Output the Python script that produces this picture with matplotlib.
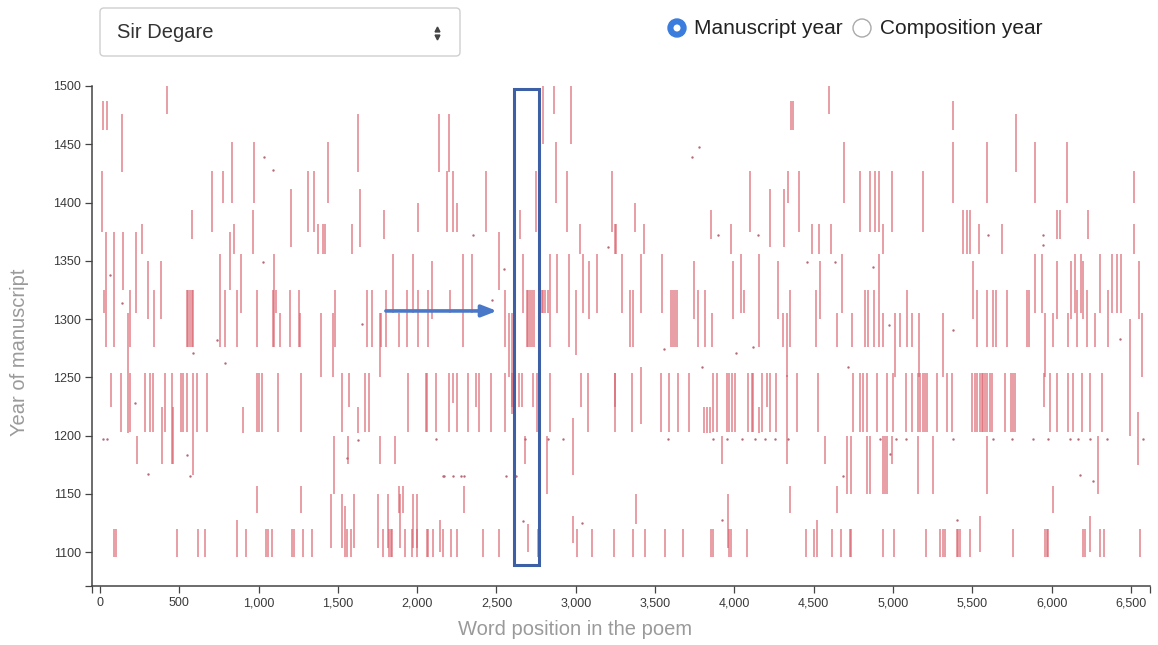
import matplotlib
matplotlib.use("Agg")
import matplotlib.pyplot as plt
from matplotlib.patches import FancyBboxPatch, Rectangle, Circle
from matplotlib.ticker import FuncFormatter

plt.rcParams["font.family"] = ["Liberation Sans", "DejaVu Sans"]

# word positions where a manuscript carries the line, grouped by the year span of that manuscript
pos_1096_1120 = [88, 100, 483, 620, 662, 920, 1044, 1061, 1086, 1212, 1222, 1282, 1334, 1555, 1582,
                 1786, 1822, 1832, 1843, 1923, 1965, 1996, 2059, 2069, 2102, 2165, 2211, 2249, 2413,
                 2518, 2760, 3010, 3100, 3241, 3363, 3436, 3562, 3678, 3852, 3862, 3966, 3976, 4077,
                 4451, 4501, 4613, 4670, 4728, 4738, 4934, 5006, 5208, 5296, 5313, 5327, 5401, 5411,
                 5422, 5486, 5759, 5958, 5968, 5979, 6200, 6210, 6305, 6333, 6557]
pos_1104_1150 = [1456, 1523, 1603, 1750, 1818, 1891, 1975, 1996, 3962]
pos_1134_1157 = [988, 1267, 1885, 1912, 2295, 4350, 4644, 6011]
pos_1150_1200 = [1477, 2816, 4711, 4732, 4838, 4855, 4939, 4950, 4964, 5159, 5250, 5591, 6295]
pos_1176_1200 = [235, 1566, 1765, 1860, 2680, 3920, 4571, 4991]
pos_1176_1225 = [389, 462]
pos_1202_1225 = [904, 1629, 3810, 3825, 3846, 4155]
pos_1225_1254 = [71, 1570, 2371, 2596, 2644, 2659, 2728, 3031, 3247, 4203, 5954]
pos_1203_1254 = [132, 189, 283, 315, 336, 410, 509, 525, 550, 610, 672, 988, 1000, 1020, 1124, 1267,
                 1523, 1671, 1696, 1940, 2055, 2062, 2116, 2203, 2249, 2323, 2392, 2463, 2554, 2611,
                 2754, 2838, 3079, 3248, 3352, 3537, 3587, 3646, 3714, 3867, 3888, 3951, 3966, 3983,
                 4004, 4084, 4109, 4116, 4172, 4224, 4260, 4396, 4529, 4745, 4791, 4812, 4838, 4897,
                 4964, 4997, 5081, 5117, 5159, 5170, 5187, 5200, 5212, 5275, 5338, 5369, 5500, 5514,
                 5528, 5549, 5560, 5570, 5580, 5591, 5612, 5622, 5706, 5744, 5755, 5769, 5990, 6032,
                 6101, 6137, 6194, 6242, 6320]
pos_1250_1305 = [1393, 1471, 1765, 2579, 4330, 5012, 5166, 5313, 5958, 6572]
pos_1276_1305 = [1135, 1261, 1775, 1885, 2291, 3861, 4309, 4644, 4739, 4934, 5044, 5117, 6011, 6106, 6274]
pos_1276_1325 = [189, 340, 546, 557, 567, 578, 588, 788, 866, 988, 1092, 1198, 1254, 1481, 1681, 1717,
                 1801, 1933, 2007, 2066, 2554, 2690, 2700, 2712, 2725, 2737, 3341, 3363, 3600, 3612,
                 3625, 3636, 3768, 3815, 4350, 4514, 4823, 4844, 4880, 5086, 5528, 5591, 5629, 5647,
                 5717, 5843, 5857, 6158, 6221, 6358]
pos_1276_1356 = [757, 1099, 2838, 2960, 4155, 4913]
pos_1276_1375 = [38, 88]
pos_1305_1325 = [25, 1113, 2207, 2785, 2796, 2807, 2827, 4063]
pos_1305_1356 = [887, 1849, 1971, 2291, 2344, 2665, 2775, 2880, 3048, 3132, 3293, 3411, 3545, 4040,
                 4676, 5895, 5937, 6148, 6186, 6305, 6379, 6410, 6438]
pos_1300_1350 = [305, 384, 2091, 3086, 3747, 3993, 4277, 4539, 5507, 6032, 6120, 6200, 6551]
pos_1325_1375 = [147, 820, 2518]
pos_1356_1382 = [267, 845, 1376, 1408, 1418, 1591, 3027, 3254, 3247, 3432, 3979, 4487, 4535, 4606,
                 4939, 5542, 5685, 6520]
pos_1369_1394 = [578, 1793, 2649, 3852, 6032, 6053, 6228]
pos_1356_1394 = [967, 5439, 5464, 5486]
pos_1362_1412 = [1204, 1639, 4224, 4315]
pos_1375_1400 = [2003, 2249, 3373]
pos_1375_1427 = [10, 704, 1309, 1351, 2186, 2228, 2434, 2749, 2943, 3227, 4098, 4409, 4791, 4854,
                 4886, 4913, 4991, 5187]
pos_1400_1427 = [774, 4340, 6520]
pos_1400_1452 = [830, 971, 1435, 2875, 4690, 5376, 5591, 5895, 6095]
pos_1426_1476 = [141, 1624, 2137, 2203, 5776]
pos_1450_1500 = [2791, 2968]
pos_1462_1487 = [17, 46, 4355, 4370, 5380]
pos_1476_1500 = [420, 2863, 4598]

# spans that do not fit the common bands: (word position, from year, to year)
odd_spans = [(175, 1202, 1305), (589, 1166, 1254), (452, 1176, 1254), (227, 1305, 1375),
             (3002, 1269, 1325), (2596, 1219, 1305), (2228, 1228, 1254), (3411, 1210, 1259),
             (4334, 1176, 1252), (6494, 1200, 1300), (6547, 1175, 1220), (2981, 1166, 1215),
             (3377, 1124, 1150), (1545, 1096, 1140), (866, 1096, 1128), (2144, 1100, 1128),
             (2701, 1100, 1124), (2981, 1108, 1131), (4522, 1096, 1128), (5549, 1100, 1131),
             (6242, 1100, 1131)]

# single-word hits
dot_x = [1034, 1030, 63, 137, 589, 740, 788, 21, 46, 221, 305, 551, 567, 1093, 1654, 1555, 1624, 2116,
         2165, 2350, 2470, 2550, 3205, 2169, 2224, 2274, 2295, 2560, 2623, 2680, 2827, 2922, 3037, 2665,
         3777, 3735, 3894, 4151, 3558, 4008, 4119, 3798, 3579, 3867, 3951, 4046, 4130, 4193, 4256, 4340,
         3920, 4455, 4634, 4875, 4976, 5376, 4718, 4917, 5018, 5081, 5380, 4981, 4686, 5405, 5597, 5948,
         5948, 6431, 5633, 5748, 5885, 5980, 6116, 6169, 6242, 6347, 6579, 6179, 6263]
dot_y = [1439, 1349, 1338, 1314, 1271, 1282, 1262, 1197, 1197, 1228, 1167, 1183, 1165, 1428, 1296, 1181,
         1196, 1197, 1165, 1372, 1316, 1343, 1362, 1165, 1165, 1165, 1165, 1165, 1165, 1197, 1197, 1197,
         1125, 1127, 1448, 1439, 1372, 1372, 1274, 1271, 1276, 1259, 1197, 1197, 1197, 1197, 1197, 1197,
         1197, 1197, 1128, 1349, 1349, 1345, 1295, 1291, 1259, 1197, 1197, 1197, 1197, 1184, 1165, 1128,
         1372, 1372, 1364, 1283, 1197, 1197, 1197, 1197, 1197, 1197, 1197, 1197, 1197, 1166, 1161]

x_ticks = list(range(0, 7000, 500))
y_ticks = list(range(1100, 1550, 50))

# highlighted column and pointer arrow (word position / year)
box_x = (2610, 2768)
box_y = (1089, 1497)
arrow_from = (1803, 1307)
arrow_to = (2503, 1307)

bands = [
    (1096, 1120, pos_1096_1120), (1104, 1150, pos_1104_1150), (1134, 1157, pos_1134_1157),
    (1150, 1200, pos_1150_1200), (1176, 1200, pos_1176_1200), (1176, 1225, pos_1176_1225),
    (1202, 1225, pos_1202_1225), (1225, 1254, pos_1225_1254), (1203, 1254, pos_1203_1254),
    (1250, 1305, pos_1250_1305), (1276, 1305, pos_1276_1305), (1276, 1325, pos_1276_1325),
    (1276, 1356, pos_1276_1356), (1276, 1375, pos_1276_1375), (1305, 1325, pos_1305_1325),
    (1305, 1356, pos_1305_1356), (1300, 1350, pos_1300_1350), (1325, 1375, pos_1325_1375),
    (1356, 1382, pos_1356_1382), (1369, 1394, pos_1369_1394), (1356, 1394, pos_1356_1394),
    (1362, 1412, pos_1362_1412), (1375, 1400, pos_1375_1400), (1375, 1427, pos_1375_1427),
    (1400, 1427, pos_1400_1427), (1400, 1452, pos_1400_1452), (1426, 1476, pos_1426_1476),
    (1450, 1500, pos_1450_1500), (1462, 1487, pos_1462_1487), (1476, 1500, pos_1476_1500),
]

W, H = 1158, 645
fig = plt.figure(figsize=(W / 100, H / 100), dpi=100)
fig.patch.set_facecolor("white")

ax = fig.add_axes([92 / W, 1 - 586 / H, (1150 - 92) / W, (586 - 86) / H])
seg_color = "#d9606c"
for lo, hi, xs in bands:
    ax.vlines(xs, lo, hi, colors=seg_color, linewidth=1.2, alpha=0.72)
ax.vlines([s[0] for s in odd_spans], [s[1] for s in odd_spans], [s[2] for s in odd_spans],
          colors=seg_color, linewidth=1.2, alpha=0.72)
ax.scatter(dot_x, dot_y, s=3, color="#b86a74", linewidths=0)

ax.add_patch(Rectangle((box_x[0], box_y[0]), box_x[1] - box_x[0], box_y[1] - box_y[0],
                       fill=False, edgecolor="#3d5fa6", linewidth=2.2, zorder=5))
ax.annotate("", xy=arrow_to, xytext=arrow_from,
            arrowprops=dict(arrowstyle="-|>,head_length=0.9,head_width=0.35", color="#4a78c8",
                            lw=2.6, shrinkA=0, shrinkB=0), zorder=6)

ax.set_xlim(-50, 6620)
ax.set_ylim(1071, 1500)
ax.set_xticks(x_ticks)
ax.set_yticks(y_ticks)
ax.set_xticks([-50, 6620], minor=True)
ax.set_yticks([1071], minor=True)
ax.xaxis.set_major_formatter(FuncFormatter(lambda v, p: f"{int(v):,}"))
for side in ("top", "right"):
    ax.spines[side].set_visible(False)
for side in ("left", "bottom"):
    ax.spines[side].set_color("#444444")
    ax.spines[side].set_linewidth(1.1)
ax.tick_params(which="both", length=5, width=0.9, color="#444444", labelsize=9, labelcolor="#3a3a3a", pad=3)
ax.set_xlabel("Word position in the poem", fontsize=14.5, color="#9a9a9a")
ax.xaxis.set_label_coords((575 - 92) / 1058, -(620 - 586) / 500)
ax.set_ylabel("Year of manuscript", fontsize=14.5, color="#9a9a9a")
ax.yaxis.set_label_coords((29 - 92) / 1058, (586 - 352) / 500)

# controls above the chart, drawn in pixel coordinates
ui = fig.add_axes([0, 0, 1, 1], facecolor="none")
ui.set_xlim(0, W)
ui.set_ylim(H, 0)
ui.axis("off")
ui.add_patch(FancyBboxPatch((100, 8), 360, 48, boxstyle="round,pad=0,rounding_size=4",
                            facecolor="white", edgecolor="#cfcfcf", linewidth=1))
ui.text(117, 33, "Sir Degare", fontsize=14.5, color="#333333", va="center", ha="left")
ui.plot([437], [29], marker="^", markersize=3.5, color="#444444")
ui.plot([437], [37], marker="v", markersize=3.5, color="#444444")
ui.add_patch(Circle((677, 28), 9, facecolor="#3b7ddd", edgecolor="#3b7ddd"))
ui.add_patch(Circle((677, 28), 3.5, facecolor="white", edgecolor="none"))
ui.text(694, 28, "Manuscript year", fontsize=15, color="#222222", va="center", ha="left")
ui.add_patch(Circle((862, 28), 9, facecolor="white", edgecolor="#aaaaaa", linewidth=1))
ui.text(880, 28, "Composition year", fontsize=15, color="#222222", va="center", ha="left")

fig.savefig("out.png", dpi=100)
